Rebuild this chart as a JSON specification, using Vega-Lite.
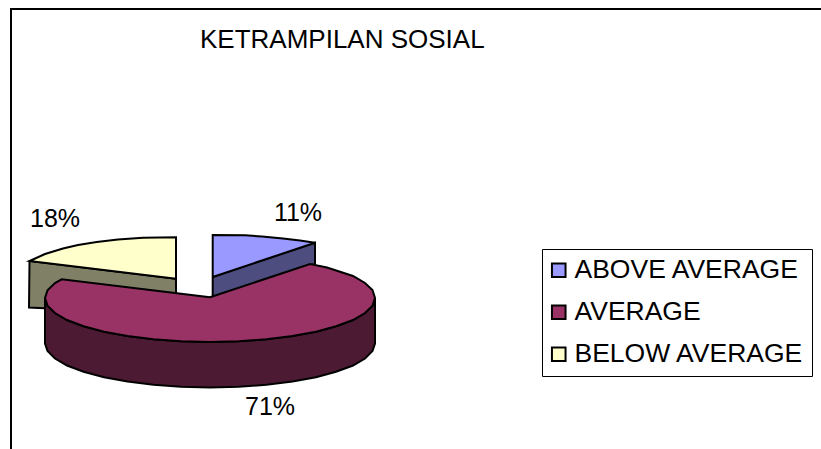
{
"$schema":"https://vega.github.io/schema/vega-lite/v6.json",
"width":821,"height":449,"padding":0,
"autosize":"none",
"background":"white",
"view":{"stroke":null},
"datasets":{
"frame":[{"s":1,"u":11,"v":449},{"s":2,"u":11,"v":9},{"s":3,"u":821,"v":9}],
"yellowSide":[{"s":1,"u":29.5,"v":261},{"s":2,"u":29,"v":307.5},{"s":3,"u":60,"v":309},{"s":4,"u":176,"v":309},{"s":5,"u":176,"v":278.7},{"s":6,"u":29.5,"v":261}],
"yellowTop":[{"category":"BELOW AVERAGE","s":1,"u":176,"v":278.7},{"category":"BELOW AVERAGE","s":2,"u":176,"v":237.3},{"category":"BELOW AVERAGE","s":3,"u":143,"v":237.8},{"category":"BELOW AVERAGE","s":4,"u":118,"v":239.5},{"category":"BELOW AVERAGE","s":5,"u":96.7,"v":242},{"category":"BELOW AVERAGE","s":6,"u":78,"v":245},{"category":"BELOW AVERAGE","s":7,"u":63,"v":248.5},{"category":"BELOW AVERAGE","s":8,"u":45,"v":254},{"category":"BELOW AVERAGE","s":9,"u":29.5,"v":261},{"category":"BELOW AVERAGE","s":10,"u":176,"v":278.7}],
"blueSide":[{"s":1,"u":212.7,"v":277},{"s":2,"u":315,"v":242.7},{"s":3,"u":315,"v":264},{"s":4,"u":212.7,"v":297},{"s":5,"u":212.7,"v":277}],
"blueTop":[{"category":"ABOVE AVERAGE","s":1,"u":212.7,"v":277},{"category":"ABOVE AVERAGE","s":2,"u":212.7,"v":235},{"category":"ABOVE AVERAGE","s":3,"u":245,"v":235.3},{"category":"ABOVE AVERAGE","s":4,"u":262,"v":236.5},{"category":"ABOVE AVERAGE","s":5,"u":283,"v":238.5},{"category":"ABOVE AVERAGE","s":6,"u":300,"v":240.5},{"category":"ABOVE AVERAGE","s":7,"u":315,"v":242.7},{"category":"ABOVE AVERAGE","s":8,"u":212.7,"v":277}],
"purpleSide":[{"s":1,"u":375,"v":298},{"s":2,"u":372.5,"v":305.6},{"s":3,"u":365,"v":313},{"s":4,"u":353,"v":320},{"s":5,"u":336,"v":326.3},{"s":6,"u":316,"v":331.7},{"s":7,"u":292.5,"v":336},{"s":8,"u":266.4,"v":339.3},{"s":9,"u":238.7,"v":341.3},{"s":10,"u":210,"v":342},{"s":11,"u":181,"v":341.3},{"s":12,"u":153.6,"v":339.3},{"s":13,"u":127.5,"v":336},{"s":14,"u":104,"v":331.7},{"s":15,"u":83.6,"v":326.3},{"s":16,"u":67,"v":320},{"s":17,"u":55,"v":313},{"s":18,"u":47.5,"v":305.6},{"s":19,"u":45,"v":298},{"s":20,"u":45,"v":343.5},{"s":21,"u":47.5,"v":351},{"s":22,"u":55,"v":358.5},{"s":23,"u":67,"v":365.5},{"s":24,"u":83.6,"v":371.8},{"s":25,"u":104,"v":377.2},{"s":26,"u":127.5,"v":381.5},{"s":27,"u":153.6,"v":384.8},{"s":28,"u":181,"v":386.8},{"s":29,"u":210,"v":387.5},{"s":30,"u":238.7,"v":386.8},{"s":31,"u":266.4,"v":384.8},{"s":32,"u":292.5,"v":381.5},{"s":33,"u":316,"v":377.2},{"s":34,"u":336,"v":371.8},{"s":35,"u":353,"v":365.5},{"s":36,"u":365,"v":358.5},{"s":37,"u":372.5,"v":351},{"s":38,"u":375,"v":343.5},{"s":39,"u":375,"v":298}],
"purpleTop":[{"category":"AVERAGE","s":1,"u":210,"v":297.3},{"category":"AVERAGE","s":2,"u":310,"v":264},{"category":"AVERAGE","s":3,"u":327,"v":267.5},{"category":"AVERAGE","s":4,"u":353,"v":276},{"category":"AVERAGE","s":5,"u":365,"v":283},{"category":"AVERAGE","s":6,"u":372.5,"v":290},{"category":"AVERAGE","s":7,"u":375,"v":298},{"category":"AVERAGE","s":8,"u":372.5,"v":305.6},{"category":"AVERAGE","s":9,"u":365,"v":313},{"category":"AVERAGE","s":10,"u":353,"v":320},{"category":"AVERAGE","s":11,"u":336,"v":326.3},{"category":"AVERAGE","s":12,"u":316,"v":331.7},{"category":"AVERAGE","s":13,"u":292.5,"v":336},{"category":"AVERAGE","s":14,"u":266.4,"v":339.3},{"category":"AVERAGE","s":15,"u":238.7,"v":341.3},{"category":"AVERAGE","s":16,"u":210,"v":342},{"category":"AVERAGE","s":17,"u":181,"v":341.3},{"category":"AVERAGE","s":18,"u":153.6,"v":339.3},{"category":"AVERAGE","s":19,"u":127.5,"v":336},{"category":"AVERAGE","s":20,"u":104,"v":331.7},{"category":"AVERAGE","s":21,"u":83.6,"v":326.3},{"category":"AVERAGE","s":22,"u":67,"v":320},{"category":"AVERAGE","s":23,"u":55,"v":313},{"category":"AVERAGE","s":24,"u":47.5,"v":305.6},{"category":"AVERAGE","s":25,"u":45,"v":298},{"category":"AVERAGE","s":26,"u":47.5,"v":290.4},{"category":"AVERAGE","s":27,"u":55,"v":283},{"category":"AVERAGE","s":28,"u":61.7,"v":279.3},{"category":"AVERAGE","s":29,"u":210,"v":297.3}],
"labels":[{"label":"11%","u":298,"v":213},{"label":"71%","u":270,"v":407},{"label":"18%","u":55,"v":219}],
"heading":[{"label":"KETRAMPILAN SOSIAL","u":200,"v":40}]
},
"encoding":{
"x":{"field":"u","type":"quantitative","scale":{"domain":[0,821],"nice":false,"zero":false},"axis":null},
"y":{"field":"v","type":"quantitative","scale":{"domain":[449,0],"nice":false,"zero":false},"axis":null}
},
"layer":[
{"data":{"name":"frame"},"mark":{"type":"line","stroke":"#000000","strokeWidth":2,"clip":false},"encoding":{"order":{"field":"s"}}},
{"data":{"name":"yellowSide"},"mark":{"type":"line","fill":"#808066","stroke":"#000000","strokeWidth":2},"encoding":{"order":{"field":"s"}}},
{"data":{"name":"yellowTop"},"mark":{"type":"line","stroke":"#000000","strokeWidth":2},"encoding":{"order":{"field":"s"},"fill":{"field":"category","type":"nominal","title":null,"scale":{"domain":["ABOVE AVERAGE","AVERAGE","BELOW AVERAGE"],"range":["#9999FF","#993366","#FFFFCC"]},"legend":{"orient":"none","legendX":542,"legendY":249,"padding":8,"strokeColor":"#000000","fillColor":"#ffffff","symbolType":"square","symbolSize":185,"symbolStrokeColor":"#000000","symbolStrokeWidth":2,"symbolOffset":-4.5,"labelFont":"Liberation Sans","labelFontSize":26.5,"labelColor":"#000000","labelLimit":400,"rowPadding":15,"labelOffset":2.5}}}},
{"data":{"name":"blueSide"},"mark":{"type":"line","fill":"#4D4D80","stroke":"#000000","strokeWidth":2},"encoding":{"order":{"field":"s"}}},
{"data":{"name":"blueTop"},"mark":{"type":"line","stroke":"#000000","strokeWidth":2},"encoding":{"order":{"field":"s"},"fill":{"field":"category","type":"nominal"}}},
{"data":{"name":"purpleSide"},"mark":{"type":"line","fill":"#4D1A33","stroke":"#000000","strokeWidth":2},"encoding":{"order":{"field":"s"}}},
{"data":{"name":"purpleTop"},"mark":{"type":"line","stroke":"#000000","strokeWidth":2},"encoding":{"order":{"field":"s"},"fill":{"field":"category","type":"nominal"}}},
{"data":{"name":"labels"},"mark":{"type":"text","font":"Liberation Sans","fontSize":25,"color":"#000000","align":"center","baseline":"middle"},"encoding":{"text":{"field":"label"}}},
{"data":{"name":"heading"},"mark":{"type":"text","font":"Liberation Sans","fontSize":26,"color":"#000000","align":"left","baseline":"middle"},"encoding":{"text":{"field":"label"}}}
]
}
